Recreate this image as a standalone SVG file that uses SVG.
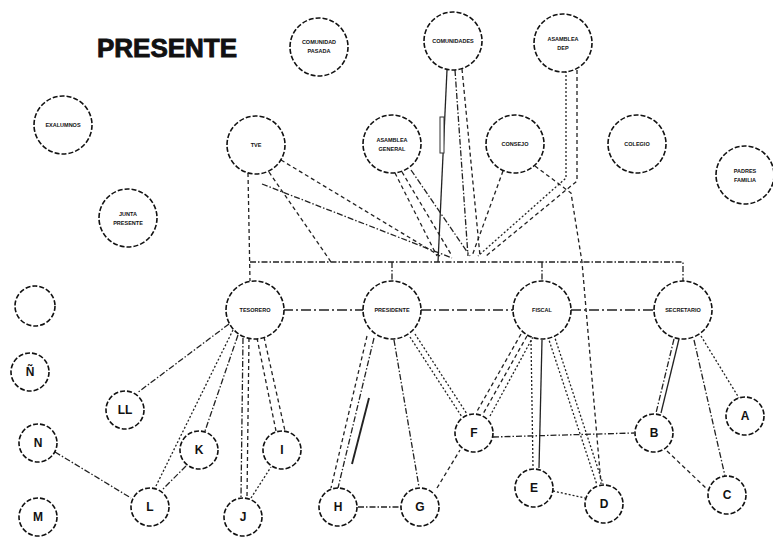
<svg xmlns="http://www.w3.org/2000/svg" width="773" height="539" viewBox="0 0 773 539">
<style>
.n{fill:#fff;stroke:#111;stroke-width:1.6;stroke-dasharray:5 2}
.t{font-family:"Liberation Sans",Arial,sans-serif;font-weight:bold;fill:#111;text-anchor:middle}
.s{font-size:5.5px}
.l{font-size:12px}
.c line,.c polyline{fill:none;stroke:#222;stroke-width:1.3}
.d1{stroke-dasharray:6 2 1.5 2}
.d2{stroke-dasharray:4 3}
.d3{stroke-dasharray:2 2}
.d4{stroke-dasharray:10 3 2 3}
</style>
<rect width="773" height="539" fill="#fff"/>
<text x="167" y="57" class="t" style="font-size:26px;stroke:#111;stroke-width:0.9">PRESENTE</text>
<g class="c" id="connectors">
<polyline class="d1" points="250,262 683,262 683,281"/>
<line class="d1" x1="392" y1="262" x2="392" y2="280"/>
<line class="d1" x1="542" y1="262" x2="542" y2="281"/>
<line class="d2" x1="248" y1="173" x2="250" y2="281"/>
<line class="d2" x1="281" y1="160" x2="440" y2="256"/>
<line class="d1" x1="262" y1="184" x2="452" y2="258"/>
<line class="d2" x1="269" y1="172" x2="331" y2="262"/>
<line class="d2" x1="395" y1="173" x2="437" y2="256"/>
<line class="d2" x1="402" y1="172" x2="452" y2="256"/>
<line class="d1" x1="411" y1="170" x2="470" y2="256"/>
<line x1="447" y1="70" x2="438" y2="262"/>
<line class="d1" x1="455" y1="70" x2="468" y2="256"/>
<line class="d2" x1="462" y1="69" x2="480" y2="256"/>
<line class="d2" x1="503" y1="171" x2="472" y2="256"/>
<polyline class="d2" points="535,166 571,193 582,262 601,484"/>
<polyline class="d3" points="566,71 566,178 478,256"/>
<polyline class="d2" points="577,70 577,181 486,256"/>
<line class="d4" x1="283" y1="310" x2="363" y2="310"/>
<line class="d4" x1="421" y1="310" x2="513" y2="310"/>
<line class="d4" x1="571" y1="310" x2="654" y2="310"/>
<line class="d1" x1="229" y1="324" x2="137" y2="393"/>
<line class="d3" x1="233" y1="330" x2="155" y2="488"/>
<line class="d1" x1="238" y1="335" x2="205" y2="431"/>
<line class="d1" x1="243" y1="338" x2="241" y2="497"/>
<line class="d2" x1="249" y1="338" x2="247" y2="497"/>
<line class="d2" x1="257" y1="338" x2="276" y2="431"/>
<line class="d2" x1="264" y1="337" x2="285" y2="431"/>
<line class="d1" x1="186" y1="466" x2="162" y2="490"/>
<line class="d1" x1="55" y1="452" x2="131" y2="498"/>
<line class="d3" x1="251" y1="498" x2="271" y2="467"/>
<line class="d2" x1="367" y1="336" x2="331" y2="488"/>
<line class="d1" x1="374" y1="338" x2="338" y2="488"/>
<line x1="369" y1="398" x2="352" y2="464" style="stroke-width:1.9"/>
<line class="d1" x1="394" y1="340" x2="419" y2="487"/>
<line class="d3" x1="410" y1="337" x2="462" y2="417"/>
<line class="d3" x1="415" y1="334" x2="467" y2="414"/>
<line class="d1" x1="358" y1="507" x2="401" y2="507"/>
<line class="d2" x1="437" y1="488" x2="460" y2="450"/>
<line class="d2" x1="521" y1="334" x2="476" y2="413"/>
<line class="d2" x1="527" y1="336" x2="483" y2="414"/>
<line class="d3" x1="533" y1="337" x2="490" y2="416"/>
<line class="d3" x1="531" y1="340" x2="533" y2="468"/>
<line x1="542" y1="340" x2="539" y2="468"/>
<line class="d3" x1="548" y1="337" x2="597" y2="485"/>
<line class="d3" x1="554" y1="335" x2="603" y2="484"/>
<line class="d1" x1="493" y1="437" x2="634" y2="433"/>
<line class="d3" x1="553" y1="491" x2="585" y2="498"/>
<line class="d1" x1="674" y1="339" x2="656" y2="413"/>
<line x1="679" y1="339" x2="661" y2="413"/>
<line class="d1" x1="694" y1="340" x2="725" y2="476"/>
<line class="d3" x1="701" y1="336" x2="739" y2="398"/>
<line class="d2" x1="667" y1="451" x2="708" y2="490"/>
</g>
<rect x="440" y="117" width="4" height="36" fill="#fff" stroke="#333" stroke-width="1"/>
<g id="exalumnos"><circle class="n" cx="63" cy="125" r="29"/><text class="t s" x="63" y="127">EXALUMNOS</text></g>
<g id="junta"><circle class="n" cx="128" cy="218" r="29"/><text class="t s" x="128" y="216">JUNTA</text><text class="t s" x="128" y="225">PRESENTE</text></g>
<g id="comunidad"><circle class="n" cx="319" cy="47" r="29"/><text class="t s" x="319" y="44">COMUNIDAD</text><text class="t s" x="319" y="53">PASADA</text></g>
<g id="comunidades"><circle class="n" cx="453" cy="41" r="29"/><text class="t s" x="453" y="43">COMUNIDADES</text></g>
<g id="asambleadep"><circle class="n" cx="563" cy="43" r="29"/><text class="t s" x="563" y="41">ASAMBLEA</text><text class="t s" x="563" y="50">DEP</text></g>
<g id="tve"><circle class="n" cx="256" cy="145" r="29"/><text class="t s" x="256" y="147">TVE</text></g>
<g id="asamblea"><circle class="n" cx="392" cy="144" r="29"/><text class="t s" x="392" y="142">ASAMBLEA</text><text class="t s" x="392" y="151">GENERAL</text></g>
<g id="consejo"><circle class="n" cx="515" cy="144" r="29"/><text class="t s" x="515" y="146">CONSEJO</text></g>
<g id="colegio"><circle class="n" cx="637" cy="144" r="29"/><text class="t s" x="637" y="146">COLEGIO</text></g>
<g id="padres"><circle class="n" cx="745" cy="175" r="29"/><text class="t s" x="745" y="173">PADRES</text><text class="t s" x="745" y="182">FAMILIA</text></g>
<g id="tesorero"><circle class="n" cx="255" cy="310" r="29"/><text class="t s" x="255" y="312">TESORERO</text></g>
<g id="presidente"><circle class="n" cx="392" cy="310" r="29"/><text class="t s" x="392" y="312">PRESIDENTE</text></g>
<g id="fiscal"><circle class="n" cx="542" cy="310" r="29"/><text class="t s" x="542" y="312">FISCAL</text></g>
<g id="secretario"><circle class="n" cx="683" cy="310" r="29"/><text class="t s" x="683" y="312">SECRETARIO</text></g>
<g id="vacio"><circle class="n" cx="35" cy="306" r="20"/></g>
<g id="nn"><circle class="n" cx="30" cy="372" r="19"/><text class="t l" x="30" y="376">Ñ</text></g>
<g id="n"><circle class="n" cx="38" cy="443" r="19"/><text class="t l" x="38" y="447">N</text></g>
<g id="m"><circle class="n" cx="38" cy="517" r="19"/><text class="t l" x="38" y="521">M</text></g>
<g id="ll"><circle class="n" cx="125" cy="410" r="19"/><text class="t l" x="125" y="414">LL</text></g>
<g id="l"><circle class="n" cx="150" cy="507" r="19"/><text class="t l" x="150" y="511">L</text></g>
<g id="k"><circle class="n" cx="199" cy="450" r="19"/><text class="t l" x="199" y="454">K</text></g>
<g id="j"><circle class="n" cx="243" cy="517" r="19"/><text class="t l" x="243" y="521">J</text></g>
<g id="i"><circle class="n" cx="282" cy="450" r="19"/><text class="t l" x="282" y="454">I</text></g>
<g id="h"><circle class="n" cx="338" cy="507" r="19"/><text class="t l" x="338" y="511">H</text></g>
<g id="g"><circle class="n" cx="420" cy="507" r="19"/><text class="t l" x="420" y="511">G</text></g>
<g id="f"><circle class="n" cx="474" cy="433" r="19"/><text class="t l" x="474" y="437">F</text></g>
<g id="e"><circle class="n" cx="534" cy="488" r="19"/><text class="t l" x="534" y="492">E</text></g>
<g id="d"><circle class="n" cx="604" cy="504" r="19"/><text class="t l" x="604" y="508">D</text></g>
<g id="b"><circle class="n" cx="654" cy="433" r="19"/><text class="t l" x="654" y="437">B</text></g>
<g id="a"><circle class="n" cx="745" cy="416" r="19"/><text class="t l" x="745" y="420">A</text></g>
<g id="c"><circle class="n" cx="727" cy="495" r="19"/><text class="t l" x="727" y="499">C</text></g>
</svg>
